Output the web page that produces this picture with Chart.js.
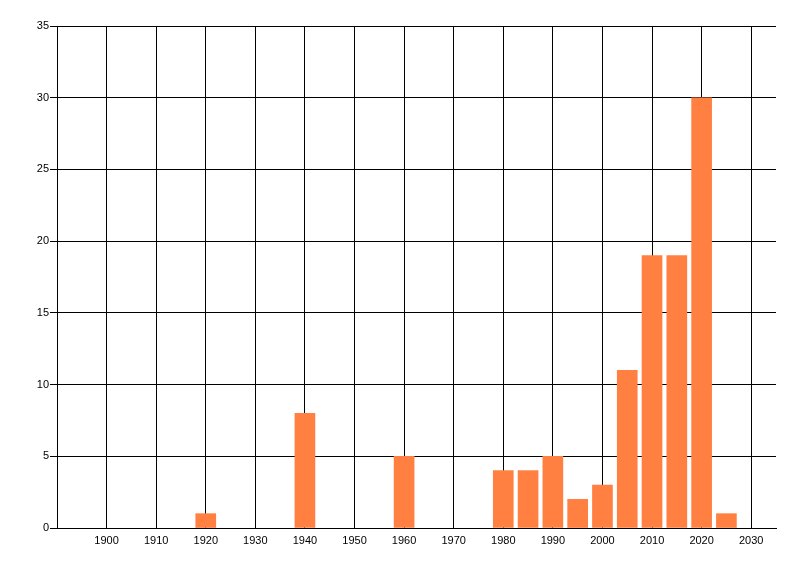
<!DOCTYPE html>
<html>
<head>
<meta charset="utf-8">
<script src="https://cdn.jsdelivr.net/npm/chart.js@4/dist/chart.umd.min.js"></script>
<style>
  html, body { margin: 0; padding: 0; background: #fff; }
  #wrap { width: 800px; height: 576px; }
</style>
</head>
<body>
<div id="wrap"><canvas id="grafico" width="800" height="576"></canvas></div>
<script>
// ===== Dados =====
const anos = [1920, 1940, 1960, 1980, 1985, 1990, 1995, 2000, 2005, 2010, 2015, 2020, 2025];
const valores = [1, 8, 5, 4, 4, 5, 2, 3, 11, 19, 19, 30, 1];
const ticksX = [1900, 1910, 1920, 1930, 1940, 1950, 1960, 1970, 1980, 1990, 2000, 2010, 2020, 2030];
const ticksY = [0, 5, 10, 15, 20, 25, 30, 35];

const fonte = { family: "'Liberation Sans', Arial, sans-serif", size: 11 };

const ctx = document.getElementById("grafico").getContext("2d");
new Chart(ctx, {
  type: "bar",
  data: {
    datasets: [{
      data: anos.map((a, i) => ({ x: a, y: valores[i] })),
      backgroundColor: "#FF8040",
      borderWidth: 0,
      barThickness: 20
    }]
  },
  options: {
    responsive: false,
    animation: false,
    layout: { padding: { top: 26, right: 24, left: 0, bottom: 0 } },
    plugins: { legend: { display: false }, tooltip: { enabled: false } },
    scales: {
      x: {
        type: "linear",
        offset: false,
        min: 1890,
        max: 2035,
        afterBuildTicks: (s) => { s.ticks = ticksX.map(v => ({ value: v })); },
        afterFit: (s) => { s.height = 48; },
        ticks: { color: "#000", font: fonte, padding: 6, maxRotation: 0, autoSkip: false,
                 callback: (v) => String(v) },
        grid: { color: "#000", lineWidth: 1, drawTicks: false, offset: false },
        border: { color: "#000", width: 1 }
      },
      y: {
        min: 0,
        max: 35,
        afterBuildTicks: (s) => { s.ticks = ticksY.map(v => ({ value: v })); },
        afterFit: (s) => { s.width = 57; },
        ticks: { color: "#000", font: fonte, padding: 1 },
        grid: { color: "#000", lineWidth: 1, drawTicks: true, tickLength: 7 },
        border: { color: "#000", width: 1 }
      }
    }
  }
});
</script>
</body>
</html>
